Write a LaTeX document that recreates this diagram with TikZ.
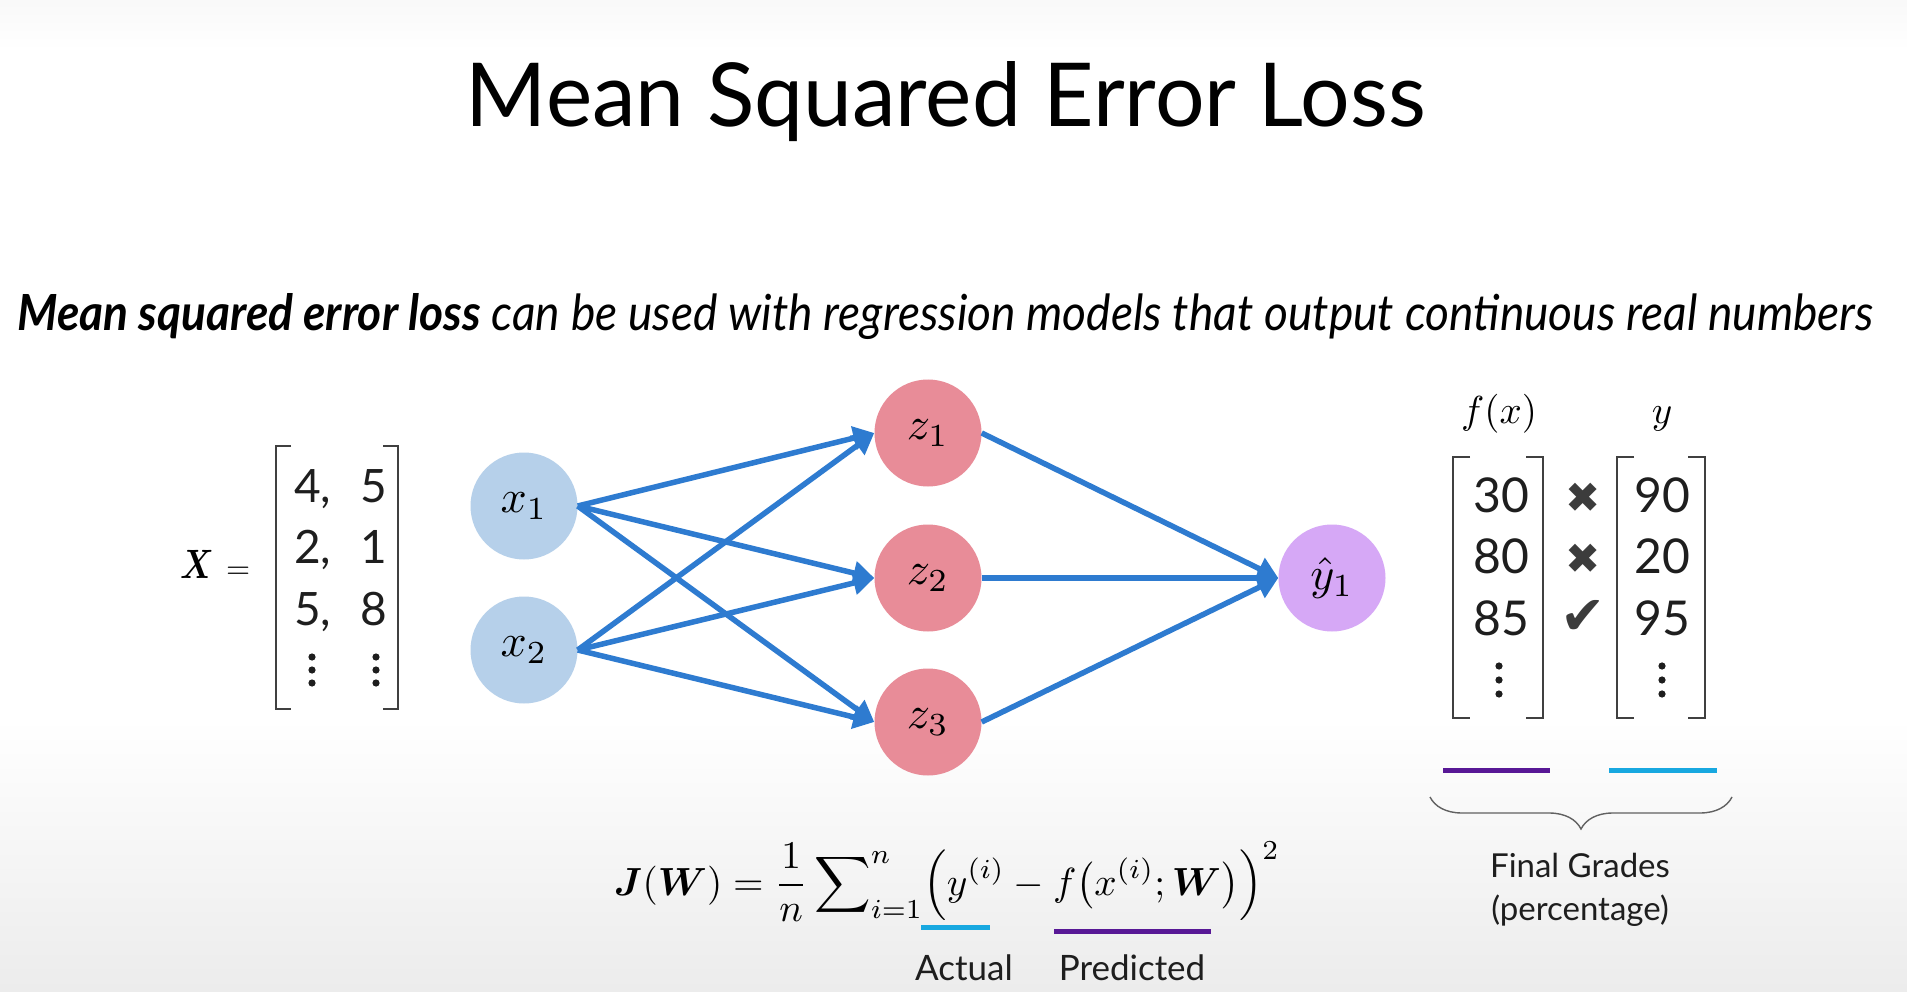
\RequirePackage{fix-cm}
\documentclass[tikz,border=0pt]{standalone}
\usepackage{amsmath}
\usepackage[no-math]{fontspec}
\setmainfont{Lato}
\newfontfamily\symfont{DejaVu Sans}
\usetikzlibrary{arrows.meta,decorations.pathreplacing}
\definecolor{inblue}{RGB}{182,208,234}
\definecolor{hidpink}{RGB}{232,140,152}
\definecolor{outlav}{RGB}{214,168,246}
\definecolor{edgeblue}{RGB}{46,123,208}
\definecolor{predpurple}{RGB}{88,24,150}
\definecolor{actcyan}{RGB}{24,168,224}
\definecolor{ink}{RGB}{30,30,30}
\definecolor{markgray}{RGB}{60,60,60}
\newcommand{\bigmath}[2]{\scalebox{#1}{$#2$}}
\tikzset{
  neuron/.style={circle, minimum size=107pt, inner sep=0pt, font=\fontsize{10}{12}\selectfont},
  conn/.style={line width=5.5pt, draw=edgeblue, -{Triangle[length=21pt,width=23pt]}},
  entrytxt/.style={anchor=base, inner sep=0pt, text=ink, font=\fontsize{46}{50}\selectfont},
  entrybig/.style={entrytxt, font=\fontsize{48}{52}\selectfont},
  bracketline/.style={line width=2pt, draw=ink!85},
  dotmark/.style={fill=ink},
  lbl/.style={anchor=base, inner sep=0pt, text=ink, font=\fontsize{35}{40}\selectfont},
  checkmk/.style={inner sep=0pt, text=markgray, font=\symfont\fontsize{42}{44}\selectfont},
  colorrule/.style={line width=5pt},
}
\begin{document}
\begin{tikzpicture}[x=1pt,y=1pt]
\useasboundingbox (0,0) rectangle (1907,-992);
\fill[white] (0,0) rectangle (1907,-992);
\shade[top color=gray!5, bottom color=white] (0,0) rectangle (1907,-50);
\shade[top color=white, bottom color=gray!15] (0,-718) rectangle (1907,-992);

% title and subtitle
\node[anchor=base, inner sep=0pt, font=\fontsize{80}{96}\selectfont] (title) at (946,-127)
  {\resizebox{960pt}{65pt}{Mean Squared Error Loss}};
\node[anchor=base west, inner sep=0pt, font=\fontsize{48}{56}\selectfont] (sub) at (17,-331)
  {\resizebox{1856pt}{37pt}{\itshape\textbf{Mean squared error loss} can be used with regression models that output continuous real numbers}};

% input matrix
\node[anchor=base west, inner sep=0pt, font=\fontsize{10}{12}\selectfont] (Xlab) at (180,-578)
  {\scalebox{3.3}[4.1]{$\boldsymbol{X}$}\hspace{12pt}\bigmath{3.1}{=}};
\draw[bracketline] (291,-446) -- (276,-446) -- (276,-709) -- (291,-709);
\draw[bracketline] (383,-446) -- (398,-446) -- (398,-709) -- (383,-709);
\node[entrytxt, anchor=base west] (m11) at (294,-502) {4,};
\node[entrytxt, anchor=base west] (m21) at (294,-563) {2,};
\node[entrytxt, anchor=base west] (m31) at (294,-625) {5,};
\node[entrytxt] (m12) at (374,-502) {5};
\node[entrytxt] (m22) at (374,-563) {1};
\node[entrytxt] (m32) at (374,-625) {8};
\foreach \yy in {657,670,683} {
  \fill[dotmark] (312,-\yy) circle (3.6);
  \fill[dotmark] (376,-\yy) circle (3.6);
}

% network
\node[neuron, fill=inblue] (x1) at (524,-506) {\bigmath{4.6}{x_1}};
\node[neuron, fill=inblue] (x2) at (524,-650) {\bigmath{4.6}{x_2}};
\node[neuron, fill=hidpink] (z1) at (928,-433) {\bigmath{4.6}{z_1}};
\node[neuron, fill=hidpink] (z2) at (928,-578) {\bigmath{4.6}{z_2}};
\node[neuron, fill=hidpink] (z3) at (928,-722) {\bigmath{4.6}{z_3}};
\node[neuron, fill=outlav] (yh) at (1332,-578) {\bigmath{4.6}{\hat{y}_1}};
\foreach \s in {x1,x2} {
  \foreach \t in {z1,z2,z3} {
    \draw[conn] (\s.east) -- (\t.west);
  }
}
\foreach \s in {z1,z2,z3} {
  \draw[conn] (\s.east) -- (yh.west);
}

% right matrices
\node[anchor=base, inner sep=0pt, font=\fontsize{10}{12}\selectfont] (fxlab) at (1499,-423) {\bigmath{3.9}{f(x)}};
\node[anchor=base, inner sep=0pt, font=\fontsize{10}{12}\selectfont] (ylab) at (1662,-423) {\bigmath{3.9}{y}};
\draw[bracketline] (1470,-457) -- (1453,-457) -- (1453,-718) -- (1470,-718);
\draw[bracketline] (1526,-457) -- (1543,-457) -- (1543,-718) -- (1526,-718);
\draw[bracketline] (1634,-457) -- (1617,-457) -- (1617,-718) -- (1634,-718);
\draw[bracketline] (1688,-457) -- (1705,-457) -- (1705,-718) -- (1688,-718);
\node[entrybig] (p1) at (1501,-512) {30};
\node[entrybig] (p2) at (1501,-573) {80};
\node[entrybig] (p3) at (1501,-635) {85};
\node[entrybig] (a1) at (1662,-512) {90};
\node[entrybig] (a2) at (1662,-573) {20};
\node[entrybig] (a3) at (1662,-635) {95};
\foreach \yy in {666,680,694} {
  \fill[dotmark] (1499,-\yy) circle (3.6);
  \fill[dotmark] (1662,-\yy) circle (3.6);
}
\node[checkmk] (c1) at (1583,-498) {✖};
\node[checkmk] (c2) at (1583,-559) {✖};
\node[checkmk, font=\symfont\fontsize{54}{56}\selectfont] (c3) at (1583,-617) {✔};

\draw[colorrule, predpurple] (1443,-770) -- (1550,-770);
\draw[colorrule, actcyan] (1609,-770) -- (1717,-770);
\draw[line width=1.4pt, draw=ink!70, decorate, decoration={brace, mirror, amplitude=32pt}] (1430,-797) -- (1732,-797);
\node[lbl, font=\fontsize{33}{38}\selectfont] (fg1) at (1580,-877) {Final Grades};
\node[lbl, font=\fontsize{33}{38}\selectfont] (fg2) at (1580,-920) {(percentage)};

% formula
\node[anchor=base, inner sep=0pt, font=\fontsize{10}{12}\selectfont] (formula) at (947,-895)
  {\resizebox{666pt}{!}{$\displaystyle \boldsymbol{J}(\boldsymbol{W}) = \frac{1}{n}\sum\nolimits_{i=1}^{n}\Bigl(y^{(i)} - f\bigl(x^{(i)};\boldsymbol{W}\bigr)\Bigr)^{2}$}};
\draw[colorrule, actcyan] (921,-927) -- (990,-927);
\draw[colorrule, predpurple] (1054,-931) -- (1211,-931);
\node[lbl] (act) at (964,-980) {Actual};
\node[lbl] (pred) at (1132,-980) {Predicted};
\end{tikzpicture}
\end{document}
